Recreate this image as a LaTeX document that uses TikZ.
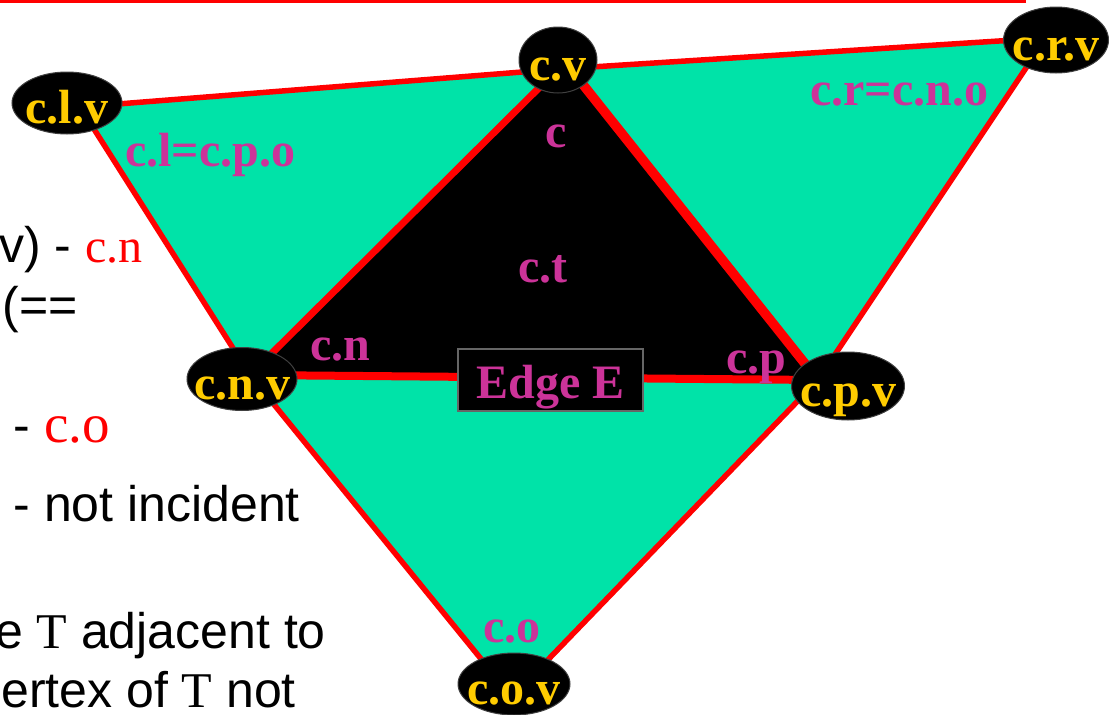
\documentclass[tikz,border=0pt]{standalone}
\usepackage{fontspec}
\setmainfont{Liberation Serif}
\newfontfamily\sansf{Liberation Sans}
\usetikzlibrary{shapes.geometric}
\definecolor{tgreen}{RGB}{0,227,168}
\definecolor{tmag}{RGB}{204,51,153}
\definecolor{tgold}{RGB}{255,204,0}
\definecolor{tred}{RGB}{255,0,0}
\newcommand\vlab[1]{\makebox[0pt]{\smash{\raisebox{-20pt}{#1}}}}
\newcommand\redser[2]{{\rmfamily\fontsize{#1}{#1}\selectfont\color{tred}#2}}
\newcommand\serT{{\rmfamily T}}
\begin{document}
\begin{tikzpicture}[x=1pt,y=-1pt,
  vert/.style={ellipse, fill=black, draw=black!75, line width=1pt, inner sep=0pt,
    text=tgold, font=\bfseries\fontsize{48}{50}\selectfont},
  lab/.style={anchor=base, text=tmag, inner sep=0pt, font=\bfseries\fontsize{48}{50}\selectfont},
  side/.style={anchor=base east, inner sep=0pt, font=\sansf\fontsize{50}{52}\selectfont},
  outeredge/.style={tred, line width=5.5pt},
  inneredge/.style={tred, line width=#1},
  edgebox/.style={draw=black!60, fill=black, line width=1.2pt, minimum width=185pt,
    minimum height=62pt, text height=36pt, text depth=0pt, inner sep=0pt,
    text=tmag, font=\bfseries\fontsize{48}{50}\selectfont}]
\useasboundingbox (0,0) rectangle (1120,715);
\clip (0,0) rectangle (1120,715);
% top rule
\coordinate (tl) at (0,1.3);
\coordinate (tr) at (1026,1.3);
\draw[tred, line width=2.6pt] (tl) -- (tr);
% polygon corners
\coordinate (L) at (80,107);
\coordinate (TV) at (560,69);
\coordinate (R) at (1046,38);
\coordinate (P) at (818,380);
\coordinate (O) at (512,697);
\coordinate (N) at (250,375);
\coordinate (A) at (565,62);
\fill[tgreen] (L) -- (TV) -- (R) -- (P) -- (O) -- (N) -- cycle;
\fill[black] (A) -- (N) -- (P) -- cycle;
\draw[outeredge] (L) -- (TV);
\draw[outeredge] (TV) -- (R);
\draw[outeredge] (R) -- (P);
\draw[outeredge] (P) -- (O);
\draw[outeredge] (O) -- (N);
\draw[outeredge] (N) -- (L);
\draw[inneredge=7pt] (A) -- (N);
\draw[inneredge=9.5pt] (A) -- (P);
\draw[inneredge=8pt] (N) -- (P);
% edge box
\node[edgebox] (edgeE) at (550.5,380) {Edge E};
% vertex nodes
\node[vert, minimum width=110pt, minimum height=62pt] (clv) at (67,103) {\vlab{c.l.v}};
\node[vert, minimum width=78pt, minimum height=66pt] (cv) at (558,60) {\vlab{c.v}};
\node[vert, minimum width=105pt, minimum height=66pt] (crv) at (1056,40) {\vlab{c.r.v}};
\node[vert, minimum width=110pt, minimum height=63pt] (cnv) at (242,379) {\vlab{c.n.v}};
\node[vert, minimum width=113pt, minimum height=68pt] (cpv) at (848,386) {\vlab{c.p.v}};
\node[vert, minimum width=112pt, minimum height=62pt] (cov) at (514,684) {\vlab{c.o.v}};
% corner labels
\node[lab] (lcl) at (210,166) {c.l=c.p.o};
\node[lab] (lcr) at (899,105) {c.r=c.n.o};
\node[lab] (lc) at (556,147) {c};
\node[lab] (lct) at (543,282) {c.t};
\node[lab] (lcn) at (340,360) {c.n};
\node[lab] (lcp) at (756,373) {c.p};
\node[lab] (lco) at (512,642) {c.o};
% left text fragments
\node[side] (s1) at (143,262) {v) - \redser{48}{c.n}};
\node[side] (s2) at (78,322) {(==};
\node[side] (s3) at (110,442) {- \redser{55}{c.o}};
\node[side] (s4) at (300,521) {- not incident};
\node[side] (s5) at (326,648) {e \serT{} adjacent to};
\node[side] (s6) at (296,707) {ertex of \serT{} not};
\end{tikzpicture}
\end{document}
